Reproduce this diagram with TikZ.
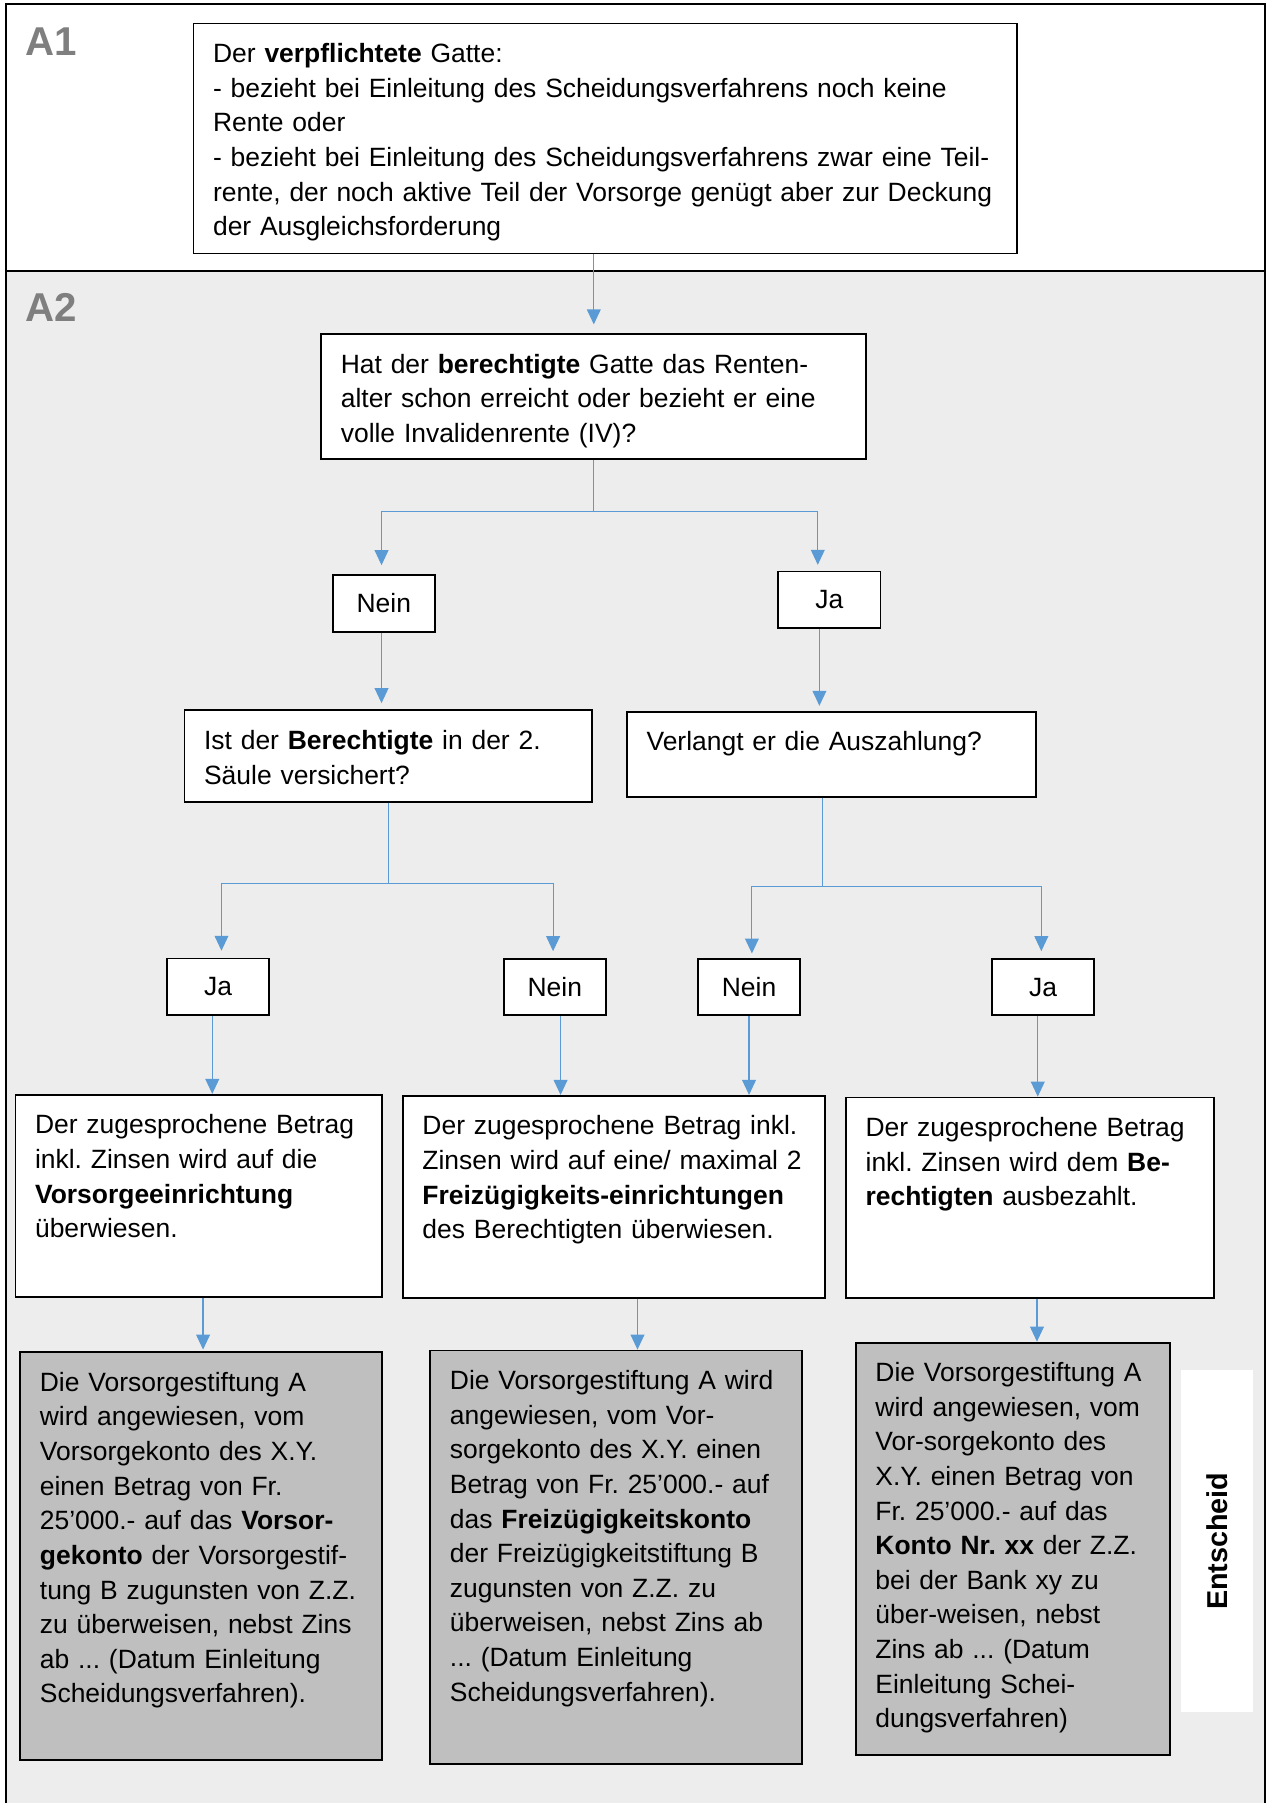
\documentclass[tikz,border=0pt]{standalone}
\usepackage{fontspec}
\setmainfont{Liberation Sans}
\usetikzlibrary{arrows.meta}
\definecolor{panelgrey}{HTML}{EDEDED}
\definecolor{boxgrey}{HTML}{BFBFBF}
\definecolor{flowblue}{HTML}{5B9BD5}
\definecolor{taggrey}{HTML}{7F7F7F}
\begin{document}
\frenchspacing
\begin{tikzpicture}[x=1pt, y=-1pt,
    box/.style={draw, line width=1.6pt, fill=white, anchor=north west, align=left, inner sep=17pt, text height=17pt, font=\fontsize{23}{30.1}\selectfont},
    result/.style={box, fill=boxgrey},
    answer/.style={draw, line width=1.6pt, fill=white, minimum width=89pt, minimum height=49pt, inner sep=0pt, font=\fontsize{23}{30.1}\selectfont},
    flowline/.style={draw=flowblue, line width=1pt},
    flowarrow/.style={flowline, -{Triangle[length=13pt, width=12pt]}},
    areatag/.style={anchor=base west, inner sep=0pt, text=taggrey, font=\bfseries\fontsize{35}{40}\selectfont}]
    \useasboundingbox (0,0) rectangle (1103,1568);
    \fill[white] (0,0) rectangle (1103,1568);
    \fill[panelgrey] (5,235.7) rectangle (1100,1575);
    \draw[line width=1.7pt] (5,1575) -- (5,3.6) -- (1100,3.6) -- (1100,1575);
    \draw[line width=1.7pt] (5,235.7) -- (1100,235.7);
    \node[areatag] (tagA1) at (22,48.7) {A1};
    \node[areatag] (tagA2) at (22,279.8) {A2};

    \node[box, text width=682pt, text depth=149pt] (duty) at (167.5,19.7) {Der \textbf{verpflichtete} Gatte:\\
        - bezieht bei Einleitung des Scheidungsverfahrens noch keine\\
        Rente oder\\
        - bezieht bei Einleitung des Scheidungsverfahrens zwar eine Teil-\\
        rente, der noch aktive Teil der Vorsorge genügt aber zur Deckung\\
        der Ausgleichsforderung};
    \node[box, text width=440pt, text depth=58pt] (age) at (278.6,289.6) {Hat der \textbf{berechtigte} Gatte das Renten-\\
        alter schon erreicht oder bezieht er eine\\
        volle Invalidenrente (IV)?};
    \node[answer] (no1) at (333.8,524.8) {Nein};
    \node[answer] (yes1) at (721.2,521.5) {Ja};
    \node[box, text width=320.5pt, text depth=28.5pt] (insured) at (159.7,617) {Ist der \textbf{Berechtigte} in der 2.\\
        Säule versichert?};
    \node[box, text width=322pt, text depth=23pt] (payout) at (544.5,618.3) {Verlangt er die Auszahlung?};
    \node[answer] (yes2) at (189.6,858.1) {Ja};
    \node[answer] (no2) at (482.5,858.5) {Nein};
    \node[answer] (no3) at (651.4,858.5) {Nein};
    \node[answer] (yes3) at (907.1,858.5) {Ja};
    \node[box, text width=284.6pt, text depth=124.8pt] (fund) at (12.7,951.3) {Der zugesprochene Betrag\\
        inkl. Zinsen wird auf die\\
        \textbf{Vorsorgeeinrichtung}\\
        überwiesen.};
    \node[box, text width=333.2pt, text depth=124.5pt] (vested) at (349.6,952.2) {Der zugesprochene Betrag inkl.\\
        Zinsen wird auf eine/ maximal 2\\
        \textbf{Freizügigkeits-einrichtungen}\\
        des Berechtigten überwiesen.};
    \node[box, text width=286.2pt, text depth=123pt] (cash) at (735,953.7) {Der zugesprochene Betrag\\
        inkl. Zinsen wird dem \textbf{Be-}\\
        \textbf{rechtigten} ausbezahlt.};
    \node[result, text width=280.4pt, text depth=303.8pt] (order1) at (16.9,1175.2) {Die Vorsorgestiftung A\\
        wird angewiesen, vom\\
        Vorsorgekonto des X.Y.\\
        einen Betrag von Fr.\\
        25'000.- auf das \textbf{Vorsor-}\\
        \textbf{gekonto} der Vorsorgestif-\\
        tung B zugunsten von Z.Z.\\
        zu überweisen, nebst Zins\\
        ab ... (Datum Einleitung\\
        Scheidungsverfahren).};
    \node[result, text width=288.9pt, text depth=308.6pt] (order2) at (373.5,1173.7) {Die Vorsorgestiftung A wird\\
        angewiesen, vom Vor-\\
        sorgekonto des X.Y. einen\\
        Betrag von Fr. 25'000.- auf\\
        das \textbf{Freizügigkeitskonto}\\
        der Freizügigkeitstiftung B\\
        zugunsten von Z.Z. zu\\
        überweisen, nebst Zins ab\\
        ... (Datum Einleitung\\
        Scheidungsverfahren).};
    \node[result, text width=239pt, text depth=307.4pt] (order3) at (743.5,1166.8) {Die Vorsorgestiftung A\\
        wird angewiesen, vom\\
        Vor-sorgekonto des\\
        X.Y. einen Betrag von\\
        Fr. 25'000.- auf das\\
        \textbf{Konto Nr. xx} der Z.Z.\\
        bei der Bank xy zu\\
        über-weisen, nebst\\
        Zins ab ... (Datum\\
        Einleitung Schei-\\
        dungsverfahren)};
    \node[rotate=90, fill=white, minimum width=297.3pt, minimum height=62.7pt, font=\bfseries\fontsize{25}{30}\selectfont] (verdict) at (1058.4,1340.4) {Entscheid};

    \draw[flowarrow, shorten >=7.5pt] (age.north |- duty.south) -- (age.north);
    \coordinate (split1) at (age.south |- 0,445);
    \draw[flowline] (age.south) -- (split1);
    \draw[flowarrow, shorten >=8pt] (split1) -| ([xshift=-2pt]no1.north);
    \draw[flowarrow, shorten >=5pt] (split1) -| ([xshift=-10pt]yes1.north);
    \draw[flowarrow, shorten >=5.5pt] ([xshift=-2pt]no1.south) -- ([xshift=-2pt]no1.south |- insured.north);
    \draw[flowarrow, shorten >=4.5pt] ([xshift=-8.6pt]yes1.south) -- ([xshift=-8.6pt]yes1.south |- payout.north);

    \coordinate (split2) at (insured.south |- 0,768.3);
    \draw[flowline] (insured.south) -- (split2);
    \draw[flowarrow, shorten >=6pt] (split2) -| ([xshift=3pt]yes2.north);
    \draw[flowarrow, shorten >=6pt] (split2) -| ([xshift=-1.5pt]no2.north);
    \coordinate (split3) at ([xshift=-7.8pt]payout.south |- 0,770.7);
    \draw[flowline] ([xshift=-7.8pt]payout.south) -- (split3);
    \draw[flowarrow, shorten >=4pt] (split3) -| ([xshift=2.5pt]no3.north);
    \draw[flowarrow, shorten >=6pt] (split3) -| ([xshift=-1.5pt]yes3.north);

    \draw[flowarrow] ([xshift=-5pt]yes2.south) -- ([xshift=-5pt]yes2.south |- fund.north);
    \draw[flowarrow] ([xshift=5pt]no2.south) -- ([xshift=5pt]no2.south |- vested.north);
    \draw[flowarrow] (no3.south) -- (no3.south |- vested.north);
    \draw[flowarrow] ([xshift=-4.6pt]yes3.south) -- ([xshift=-4.6pt]yes3.south |- cash.north);
    \draw[flowarrow, shorten >=1.5pt] ([xshift=3.8pt]fund.south) -- ([xshift=3.8pt]fund.south |- order1.north);
    \draw[flowarrow] ([xshift=20.4pt]vested.south) -- ([xshift=20.4pt]vested.south |- order2.north);
    \draw[flowarrow] ([xshift=5.9pt]cash.south) -- ([xshift=5.9pt]cash.south |- order3.north);
\end{tikzpicture}
\end{document}
